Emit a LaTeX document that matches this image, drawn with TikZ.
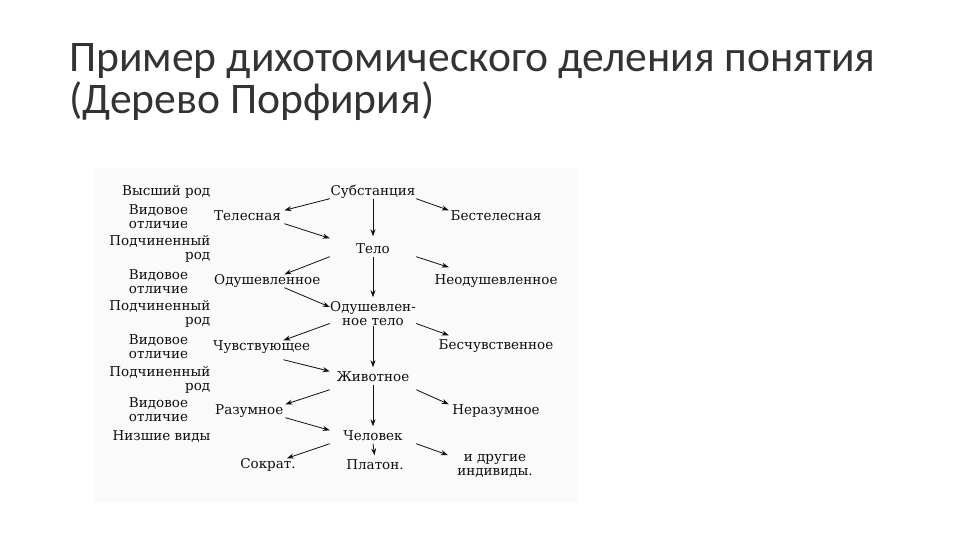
\documentclass[tikz,border=0pt]{standalone}
\usepackage{fontspec}
\setmainfont{DejaVu Serif}
\newfontfamily\titlefont{Carlito}
\usepackage{tikz}
\usetikzlibrary{arrows.meta}
\usepackage{xcolor}
\definecolor{inkgray}{RGB}{15,15,15}
\definecolor{panelgray}{RGB}{250,250,250}
\newcommand{\lcell}[1]{\makebox[70pt][l]{#1}}
\newcommand{\mcell}[1]{\makebox[86pt][c]{#1}}
\newcommand{\rcell}[1]{\makebox[94pt][c]{#1}}

\begin{document}
\begin{tikzpicture}[x=1pt, y=-1pt, >={Stealth[length=7pt,width=5pt]},
  every node/.style={inner sep=0pt, text=inkgray},
  term/.style={font=\fontsize{13.5}{14}\selectfont, text height=10pt, text depth=3pt},
  pair/.style={font=\fontsize{13.5}{14}\selectfont, align=center},
  arr/.style={->, line width=0.8pt, draw=inkgray},
  varr/.style={arr, shorten >=4pt}]
\useasboundingbox (0,0) rectangle (960,540);
\fill[panelgray] (95,168) rectangle (578,503);

\node[anchor=north west, align=left, text=black!80,
      font=\titlefont\fontsize{43.6}{42}\selectfont] (title) at (69,43.5)
  {Пример дихотомического деления понятия\\(Дерево Порфирия)};

% left column of labels
\node[term, anchor=east] (high) at (210.5,192) {Высший род};
\foreach \y [count=\i] in {217,282,346.5,410}
  \node[pair] (vid\i) at (158.5,\y) {Видовое\\отличие};
\foreach \y [count=\i] in {248.5,314,379.5}
  \node[pair, align=right, anchor=east] (sub\i) at (210.5,\y) {Подчиненный\\род};
\node[term, anchor=east] (low) at (210.5,437) {Низшие виды};

% middle column
\node[term] (subst) at (373,192) {\mcell{Субстанция}};
\node[term] (telo) at (373,250) {\mcell{Тело}};
\node[pair] (odtelo) at (373,313.5) {\mcell{Одушевлен-}\\\mcell{ное тело}};
\node[term] (zhiv) at (373,378) {\mcell{Животное}};
\node[term] (chel) at (373,437) {\mcell{Человек}};
\node[term] (platon) at (375,466) {Платон.};

% left branch
\node[term, anchor=west] (tel) at (214,217) {\lcell{Телесная}};
\node[term, anchor=west] (odush) at (214,281) {\lcell{Одушевленное}};
\node[term, anchor=west] (chuv) at (213,347) {\lcell{Чувствующее}};
\node[term, anchor=west] (razum) at (215,411) {\lcell{Разумное}};
\node[term] (sokrat) at (268,465) {Сократ.};

% right branch
\node[term] (btel) at (496,217) {\rcell{Бестелесная}};
\node[term] (neodush) at (496,281) {\rcell{Неодушевленное}};
\node[term] (bchuv) at (496,346) {\rcell{Бесчувственное}};
\node[term] (nerazum) at (496,411) {\rcell{Неразумное}};
\node[pair] (drugie) at (495,465.5) {\rcell{и другие}\\\rcell{индивиды.}};

% trunk
\draw[varr, shorten >=7pt] (subst.south) -- (telo.north);
\draw[varr] (telo.south) -- (odtelo.north);
\draw[varr] (odtelo.south) -- (zhiv.north);
\draw[varr] (zhiv.south) -- (chel.north);
\draw[varr] (chel.south) -- (platon.north);

% branches
\draw[arr] (subst.south west) -- (tel.north east);
\draw[arr] (subst.south east) -- (btel.north west);
\draw[arr] (tel.south east) -- ([yshift=5pt]telo.north west);
\draw[arr] (telo.south west) -- (odush.north east);
\draw[arr] (telo.south east) -- ([yshift=7pt]neodush.north west);
\draw[arr] (odush.south east) -- ([yshift=6.5pt]odtelo.west);
\draw[arr] ([yshift=-10pt]odtelo.west) -- (chuv.north east);
\draw[arr] ([yshift=-10pt]odtelo.east) -- ([yshift=4pt]bchuv.north west);
\draw[arr] ([yshift=-6pt]chuv.south east) -- (zhiv.north west);
\draw[arr] ([yshift=-5pt]zhiv.south west) -- (razum.north east);
\draw[arr] ([yshift=-5pt]zhiv.south east) -- (nerazum.north west);
\draw[arr] (razum.south east) -- (chel.north west);
\draw[arr] (chel.south west) -- ([xshift=-9pt]sokrat.north east);
\draw[arr] (chel.south east) -- ([yshift=10.5pt]drugie.west);
\end{tikzpicture}
\end{document}
